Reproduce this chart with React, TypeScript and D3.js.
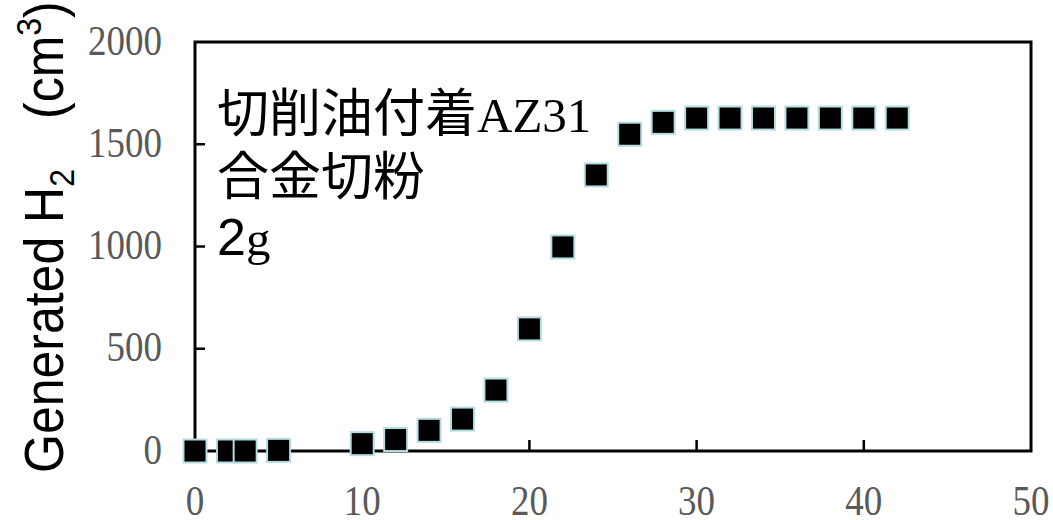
import * as d3 from "d3";

const W = 1053;
const H = 520;
const MARGIN = { top: 42, right: 22, bottom: 69, left: 195 };

const times = [0, 2, 3, 5, 10, 12, 14, 16, 18, 20, 22, 24, 26, 28, 30, 32, 34, 36, 38, 40, 42];
const h2Volume = [0, 0, 0, 3, 36, 56, 101, 156, 298, 597, 998, 1350, 1549, 1607, 1628, 1628, 1628, 1628, 1628, 1628, 1628];

const xTicks = [0, 10, 20, 30, 40, 50];
const yTicks = [0, 500, 1000, 1500, 2000];

const noteLines = ["切削油付着", "合金切粉"];

const SERIF = "'Liberation Serif', 'Times New Roman', serif";
const SANS = "'Liberation Sans', Arial, sans-serif";
const CJK = "'Noto Sans CJK JP', 'Noto Sans CJK SC', sans-serif";

export default function App() {
  const boundsWidth = W - MARGIN.left - MARGIN.right;
  const boundsHeight = H - MARGIN.top - MARGIN.bottom;

  const xScale = d3.scaleLinear().domain([0, 50]).range([0, boundsWidth]);
  const yScale = d3.scaleLinear().domain([0, 2000]).range([boundsHeight, 0]);

  const points = times.map((t, i) => ({ x: t, y: h2Volume[i] }));
  const sq = 23;

  return (
    <div style={{ position: "absolute", left: 0, top: 0 }}>
      <svg width={W} height={H} style={{ display: "block", background: "#fff" }}>
        <g transform={`translate(${MARGIN.left}, ${MARGIN.top})`}>
          {/* frame */}
          <rect x={0} y={0} width={boundsWidth} height={boundsHeight}
            fill="none" stroke="#000" strokeWidth={3} />

          {/* y ticks (inside) and labels */}
          {yTicks.map(t => (
            <g key={"y" + t}>
              {t > 0 && t < 2000 && (
                <line x1={0} x2={10} y1={yScale(t)} y2={yScale(t)} stroke="#000" strokeWidth={2.5} />
              )}
              <text
                transform={`translate(-33, ${yScale(t) + 3}) scale(1, 1.12)`}
                textAnchor="end" dominantBaseline="middle"
                fontFamily={SERIF} fontSize={37} fill="#595959">
                {t}
              </text>
            </g>
          ))}

          {/* x ticks (inside) and labels */}
          {xTicks.map(t => (
            <g key={"x" + t}>
              {t > 0 && t < 50 && (
                <line x1={xScale(t)} x2={xScale(t)} y1={boundsHeight} y2={boundsHeight - 11} stroke="#000" strokeWidth={2.5} />
              )}
              <text
                transform={`translate(${xScale(t)}, ${boundsHeight + 64}) scale(1, 1.12)`}
                textAnchor="middle"
                fontFamily={SERIF} fontSize={37} fill="#595959">
                {t}
              </text>
            </g>
          ))}

          {/* annotation */}
          <text x={22} y={90} fontSize={52} fill="#000">
            <tspan fontFamily={CJK}>{noteLines[0]}</tspan>
            <tspan fontFamily={SERIF} fontSize={49}>AZ31</tspan>
          </text>
          <text x={22} y={153} fontSize={52} fill="#000" fontFamily={CJK}>{noteLines[1]}</text>
          <text x={22} y={213} fontSize={52} fill="#000">
            <tspan fontFamily={SANS}>2</tspan>
            <tspan fontFamily={SERIF} fontSize={49}>g</tspan>
          </text>

          {/* markers */}
          {points.map((d, i) => (
            <rect key={i}
              x={xScale(d.x) - sq / 2} y={yScale(d.y) - sq / 2}
              width={sq} height={sq}
              fill="#000" stroke="#b3dde3" strokeWidth={2} />
          ))}
        </g>

        {/* y axis title */}
        <text transform="translate(63, 473) rotate(-90) scale(1, 1.1)"
          fontFamily={SANS} fontSize={50} fill="#000">
          Generated H<tspan fontSize={32} dy={10}>2</tspan>
          <tspan dy={-10} fontFamily={CJK}>{"\u3000"}</tspan>(cm<tspan fontSize={32} dy={-20}>3</tspan><tspan dy={20}>)</tspan>
        </text>
      </svg>
    </div>
  );
}
